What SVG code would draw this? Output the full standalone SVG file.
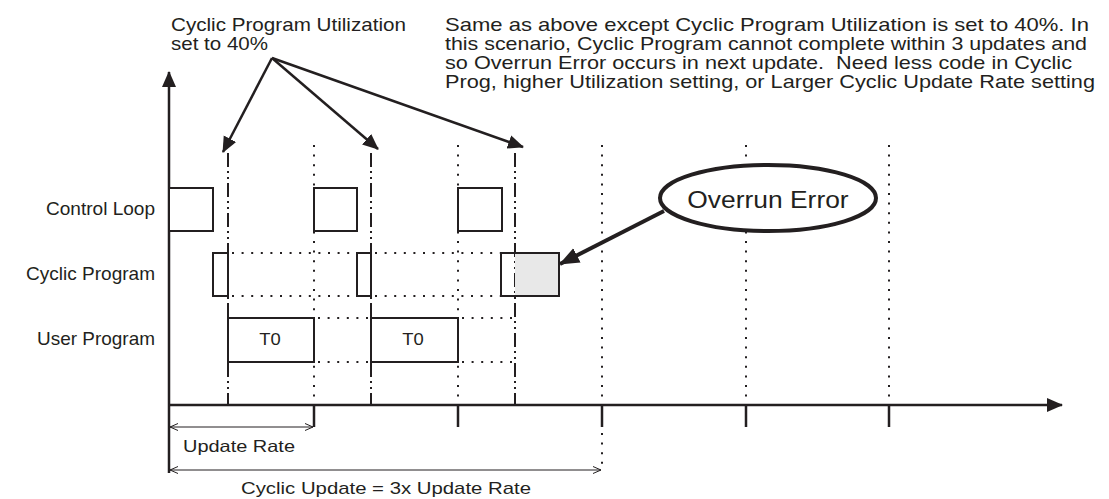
<svg xmlns="http://www.w3.org/2000/svg" width="1109" height="499" viewBox="0 0 1109 499">
<defs>
<style>
text{font-family:"Liberation Sans",Arial,sans-serif;fill:#231f20}
.lbl{font-size:18.5px}
.big{font-size:18.5px}
.box{fill:#fff;stroke:#231f20;stroke-width:2}
.ax{stroke:#231f20;stroke-width:2.5;fill:none}
.dd{stroke:#231f20;stroke-width:2;stroke-dasharray:14 4 2 4 2 4;fill:none}
.dot{stroke:#231f20;stroke-width:2;stroke-dasharray:2 7.6;fill:none}
.thin{stroke:#231f20;stroke-width:1;fill:none}
.ptr{stroke:#231f20;stroke-width:2.5;fill:none}
</style>
<marker id="ah" markerUnits="userSpaceOnUse" markerWidth="16" markerHeight="16" viewBox="0 0 16 16" refX="15" refY="8" orient="auto">
<path d="M0,1 L16,8 L0,15 Z" fill="#231f20"/>
</marker>
<marker id="ahb" markerUnits="userSpaceOnUse" markerWidth="20" markerHeight="20" viewBox="0 0 20 20" refX="19" refY="10" orient="auto">
<path d="M0,2 L20,10 L0,18 Z" fill="#231f20"/>
</marker>
<marker id="open" markerUnits="userSpaceOnUse" markerWidth="10" markerHeight="10" viewBox="0 0 10 10" refX="9" refY="5" orient="auto-start-reverse">
<path d="M1,1.5 L9,5 L1,8.5" fill="none" stroke="#231f20" stroke-width="1"/>
</marker>
</defs>
<rect width="1109" height="499" fill="#fff"/>

<g id="grid">
<line class="dd" x1="228" y1="153" x2="228" y2="405"/>
<line class="dd" x1="371" y1="153" x2="371" y2="405"/>
<line class="dd" x1="515" y1="153" x2="515" y2="405"/>
<line class="dot" x1="314" y1="145" x2="314" y2="405"/>
<line class="dot" x1="458" y1="145" x2="458" y2="405"/>
<line class="dot" x1="602" y1="145" x2="602" y2="405"/>
<line class="dot" x1="602" y1="433" x2="602" y2="466"/>
<line class="dot" x1="746" y1="145" x2="746" y2="405"/>
<line class="dot" x1="889" y1="145" x2="889" y2="405"/>
<line class="dot" x1="232" y1="253" x2="357" y2="253"/>
<line class="dot" x1="232" y1="296" x2="357" y2="296"/>
<line class="dot" x1="375" y1="253" x2="501" y2="253"/>
<line class="dot" x1="375" y1="296" x2="501" y2="296"/>
<line class="dot" x1="318" y1="318" x2="371" y2="318"/>
<line class="dot" x1="318" y1="362" x2="371" y2="362"/>
<line class="dot" x1="462" y1="318" x2="515" y2="318"/>
<line class="dot" x1="462" y1="362" x2="515" y2="362"/>
</g>

<g id="axes">
<line class="ax" x1="169" y1="473" x2="169" y2="72" marker-end="url(#ah)"/>
<line class="ax" x1="168" y1="405" x2="1062" y2="405" marker-end="url(#ah)"/>
<line class="ax" x1="314" y1="405" x2="314" y2="427"/>
<line class="ax" x1="458" y1="405" x2="458" y2="427"/>
<line class="ax" x1="602" y1="405" x2="602" y2="427"/>
<line class="ax" x1="746" y1="405" x2="746" y2="427"/>
<line class="ax" x1="889" y1="405" x2="889" y2="427"/>
</g>

<g id="control-loop">
<rect class="box" x="169" y="188" width="44" height="43"/>
<rect class="box" x="314" y="188" width="43" height="43"/>
<rect class="box" x="458" y="188" width="44" height="43"/>
</g>

<g id="cyclic-program">
<rect class="box" x="213" y="253" width="15" height="43"/>
<rect class="box" x="357" y="253" width="14" height="43"/>
<rect x="515" y="253" width="44" height="43" fill="#e8e8e8"/>
<rect x="501" y="253" width="58" height="43" fill="none" stroke="#231f20" stroke-width="2"/>
</g>

<g id="user-program">
<rect class="box" x="228" y="318" width="86" height="44"/>
<text transform="translate(270,345) scale(1.15,1)" font-size="16" text-anchor="middle">T0</text>
<rect class="box" x="371" y="318" width="87" height="44"/>
<text transform="translate(413,345) scale(1.15,1)" font-size="16" text-anchor="middle">T0</text>
</g>

<g id="row-labels">
<text class="lbl" x="155" y="215" text-anchor="end" textLength="109" lengthAdjust="spacingAndGlyphs">Control Loop</text>
<text class="lbl" x="155" y="280" text-anchor="end" textLength="129" lengthAdjust="spacingAndGlyphs">Cyclic Program</text>
<text class="lbl" x="155" y="345" text-anchor="end" textLength="118" lengthAdjust="spacingAndGlyphs">User Program</text>
</g>

<g id="dimensions">
<line class="thin" x1="170" y1="427" x2="313" y2="427" marker-start="url(#open)" marker-end="url(#open)"/>
<text x="183" y="452" font-size="16.5" textLength="112" lengthAdjust="spacingAndGlyphs">Update Rate</text>
<line class="thin" x1="170" y1="470" x2="601" y2="470" marker-start="url(#open)" marker-end="url(#open)"/>
<text x="241" y="494" font-size="16.6" textLength="290" lengthAdjust="spacingAndGlyphs">Cyclic Update = 3x Update Rate</text>
</g>

<g id="utilization-note">
<text class="big" x="171" y="30.5" textLength="235" lengthAdjust="spacingAndGlyphs">Cyclic Program Utilization</text>
<text class="big" x="171" y="49.5" textLength="97" lengthAdjust="spacingAndGlyphs">set to 40%</text>
</g>

<g id="scenario-note">
<text class="big" x="445" y="30.5" textLength="644" lengthAdjust="spacingAndGlyphs">Same as above except Cyclic Program Utilization is set to 40%. In</text>
<text class="big" x="445" y="49.5" textLength="642" lengthAdjust="spacingAndGlyphs">this scenario, Cyclic Program cannot complete within 3 updates and</text>
<text class="big" x="445" y="68.5" textLength="627" lengthAdjust="spacingAndGlyphs" xml:space="preserve">so Overrun Error occurs in next update.  Need less code in Cyclic</text>
<text class="big" x="445" y="87.5" textLength="650" lengthAdjust="spacingAndGlyphs">Prog, higher Utilization setting, or Larger Cyclic Update Rate setting</text>
</g>

<g id="overrun-error">
<ellipse cx="768" cy="198" rx="108" ry="33" fill="#fff" stroke="#231f20" stroke-width="4"/>
<text transform="translate(768,208) scale(1.1,1)" font-size="24" text-anchor="middle">Overrun Error</text>
</g>

<g id="connectors">
<line class="ptr" x1="272" y1="58" x2="223" y2="152" marker-end="url(#ah)"/>
<line class="ptr" x1="272" y1="58" x2="378" y2="149" marker-end="url(#ah)"/>
<line class="ptr" x1="272" y1="58" x2="523" y2="147" marker-end="url(#ah)"/>
<line x1="664" y1="211" x2="560" y2="264" stroke="#231f20" stroke-width="4" marker-end="url(#ahb)"/>
</g>
</svg>
